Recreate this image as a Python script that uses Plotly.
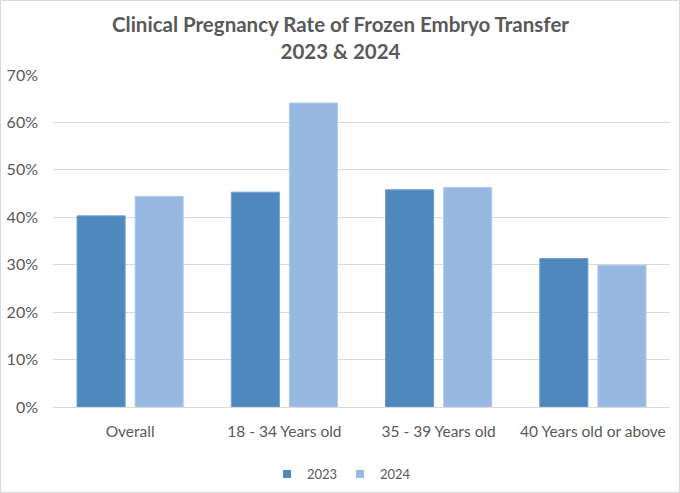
import plotly.graph_objects as go

categories = ["Overall", "18 - 34 Years old", "35 - 39 Years old", "40 Years old or above"]
rate_2023 = [0.403, 0.453, 0.458, 0.313]
rate_2024 = [0.444, 0.641, 0.463, 0.299]
tick_vals = [0, 0.1, 0.2, 0.3, 0.4, 0.5, 0.6, 0.7]
tick_text = ["0%", "10%", "20%", "30%", "40%", "50%", "60%", "70%"]

W, H = 680, 493
ml, mr, mt, mb = 53, 10, 75, 86
pw, ph = W - ml - mr, H - mt - mb

font = "Lato, 'Open Sans', sans-serif"
gray = "#595959"
c23, c24 = "#4f88bd", "#97b8e0"

fig = go.Figure()
fig.add_trace(go.Bar(x=categories, y=rate_2023, name="2023", showlegend=False,
                     marker=dict(color=c23, line=dict(color="#6f9fd0", width=1))))
fig.add_trace(go.Bar(x=categories, y=rate_2024, name="2024", showlegend=False,
                     marker=dict(color=c24, line=dict(color="#b3cbea", width=1))))
# legend entries with small square swatches
fig.add_trace(go.Scatter(x=[None], y=[None], mode="markers", name="2023",
                         marker=dict(symbol="square", size=8, color=c23)))
fig.add_trace(go.Scatter(x=[None], y=[None], mode="markers", name="2024",
                         marker=dict(symbol="square", size=8, color=c24)))

fig.update_layout(
    width=W, height=H,
    margin=dict(l=ml, r=mr, t=mt, b=mb, autoexpand=False),
    paper_bgcolor="white", plot_bgcolor="white",
    barmode="group", bargap=0.247, bargroupgap=0.172,
    font=dict(family=font, color=gray, size=15),
    xaxis=dict(showgrid=False, showline=True, linecolor="#d9d9d9", linewidth=1, automargin=False,
               ticks="", ticklabelstandoff=10, tickfont=dict(size=15.5, color=gray)),
    yaxis=dict(range=[0, 0.7], tickvals=tick_vals, ticktext=tick_text, automargin=False,
               showgrid=True, gridcolor="#d9d9d9", gridwidth=1, zeroline=False,
               ticks="", ticklabelstandoff=14, tickfont=dict(size=16, color=gray)),
    legend=dict(orientation="h", x=(W / 2 - ml) / pw, xanchor="center", y=-67 / ph, yanchor="middle",
                font=dict(size=13, color=gray), itemwidth=30, entrywidth=28, entrywidthmode="pixels",
                tracegroupgap=0),
    annotations=[dict(text="<b>Clinical Pregnancy Rate of Frozen Embryo Transfer<br>2023 &amp; 2024</b>",
                      xref="paper", yref="paper", x=(W / 2 - ml) / pw, y=1 + (mt - 10) / ph,
                      xanchor="center", yanchor="top", showarrow=False, align="center",
                      font=dict(family=font, size=20.5, color=gray))],
    shapes=[dict(type="rect", xref="paper", yref="paper",
                 x0=-ml / pw + 0.5 / pw, x1=1 + (mr - 0.5) / pw,
                 y0=-mb / ph + 0.5 / ph, y1=1 + (mt - 0.5) / ph,
                 line=dict(color="#d9d9d9", width=1), fillcolor="rgba(0,0,0,0)")],
)

fig.write_html("out.html", config={"displayModeBar": False},
               post_script="document.body.style.margin='0';document.body.style.padding='0';")
